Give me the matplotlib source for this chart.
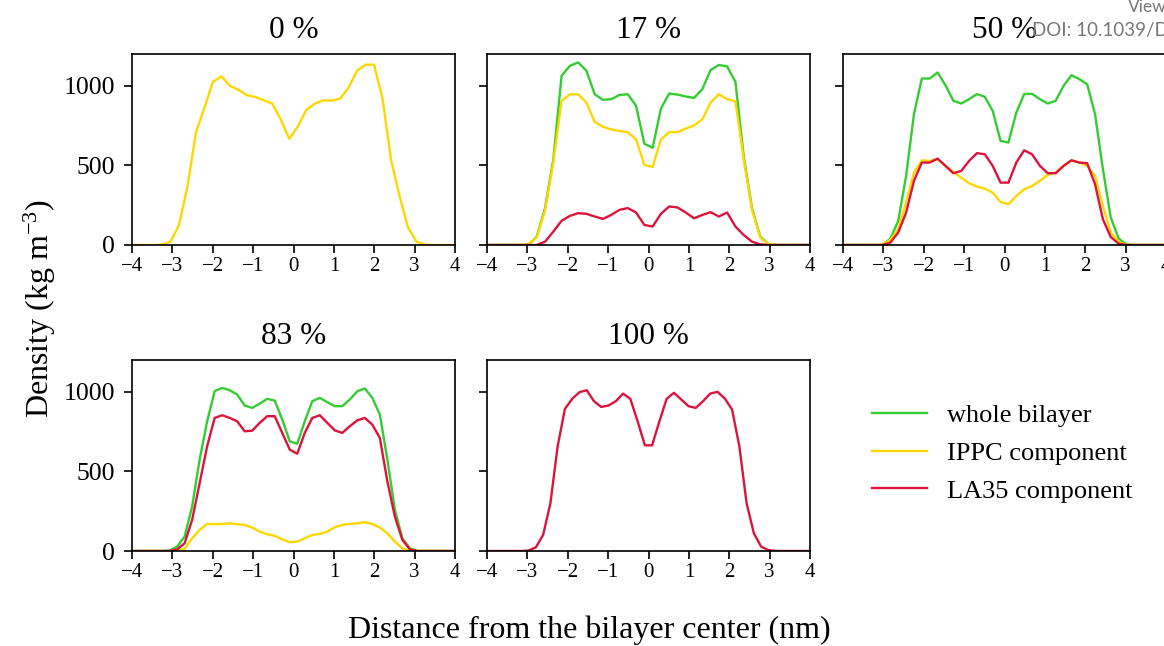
import matplotlib
matplotlib.use("Agg")
import matplotlib.pyplot as plt

plt.rcParams['font.family'] = 'Liberation Serif'
plt.rcParams['mathtext.fontset'] = 'custom'
plt.rcParams['mathtext.rm'] = 'Liberation Serif'
plt.rcParams['mathtext.it'] = 'Liberation Serif:italic'
plt.rcParams['axes.linewidth'] = 1.2

# density profiles (kg m^-3), x in nm
x_0 = [-4.095, -3.885, -3.675, -3.465, -3.255, -3.045, -2.835, -2.625, -2.415, -2.205,
       -1.995, -1.785, -1.575, -1.365, -1.155, -0.945, -0.735, -0.525, -0.315, -0.105,
       0.105, 0.315, 0.525, 0.735, 0.945, 1.155, 1.365, 1.575, 1.785, 1.995,
       2.205, 2.415, 2.625, 2.835, 3.045, 3.255, 3.465, 3.675, 3.885, 4.095]
ippc_0 = [0, 0, 0, 0, 3, 21, 126, 368, 709, 863,
          1025, 1059, 1000, 975, 941, 930, 909, 888, 789, 667,
          743, 848, 888, 909, 907, 920, 989, 1095, 1133, 1133,
          920, 537, 309, 112, 21, 3, 0, 0, 0, 0]

x_17 = [-4.2025, -3.9975, -3.7925, -3.5875, -3.3825, -3.1775, -2.9725, -2.7675, -2.5625, -2.3575,
        -2.1525, -1.9475, -1.7425, -1.5375, -1.3325, -1.1275, -0.9225, -0.7175, -0.5125, -0.3075,
        -0.1025, 0.1025, 0.3075, 0.5125, 0.7175, 0.9225, 1.1275, 1.3325, 1.5375, 1.7425,
        1.9475, 2.1525, 2.3575, 2.5625, 2.7675, 2.9725, 3.1775, 3.3825, 3.5875, 3.7925,
        3.9975, 4.2025]
whole_17 = [0, 0, 0, 0, 0, 0,
            0, 53, 232, 537, 1063, 1126, 1147, 1095, 947, 912, 916, 943, 947, 874, 636,
            611, 857, 952, 945, 933, 924, 979, 1099, 1131, 1122, 1025, 558, 232, 53, 6,
            0, 0, 0, 0, 0, 0]
ippc_17 = [0, 0, 0, 0, 0, 0,
           6, 48, 217, 516, 905, 947, 947, 895, 773, 743, 726, 716, 709, 663, 503,
           491, 663, 709, 709, 731, 752, 789, 895, 947, 916, 903, 540, 221, 48, 5,
           0, 0, 0, 0, 0, 0]
la35_17 = [0, 0, 0, 0, 0, 0,
           0, 0, 21, 84, 152, 183, 200, 196, 179, 164, 189, 221, 232, 204, 126,
           116, 196, 242, 236, 204, 168, 189, 206, 179, 204, 116, 63, 21, 4, 0,
           0, 0, 0, 0, 0, 0]

x_50 = [-4.1925, -3.9975, -3.8025, -3.6075, -3.4125, -3.2175, -3.0225, -2.8275, -2.6325, -2.4375,
        -2.2425, -2.0475, -1.8525, -1.6575, -1.4625, -1.2675, -1.0725, -0.8775, -0.6825, -0.4875,
        -0.2925, -0.0975, 0.0975, 0.2925, 0.4875, 0.6825, 0.8775, 1.0725, 1.2675, 1.4625,
        1.6575, 1.8525, 2.0475, 2.2425, 2.4375, 2.6325, 2.8275, 3.0225, 3.2175, 3.4125,
        3.6075, 3.8025, 3.9975, 4.1925]
whole_50 = [0, 0, 0, 0, 0, 0,
            0, 40, 151, 434, 822, 1046, 1046, 1084, 1004, 906, 889, 916, 948, 931, 843, 654,
            644, 832, 948, 950, 916, 889, 906, 1000, 1067, 1042, 1010, 822, 476, 172, 40, 4,
            0, 0, 0, 0, 0, 0]
ippc_50 = [0, 0, 0, 0, 0, 0,
           4, 31, 99, 266, 455, 532, 528, 539, 497, 459, 423, 388, 367, 354, 329, 270,
           256, 308, 350, 371, 403, 440, 455, 497, 532, 518, 497, 434, 245, 78, 19, 0,
           0, 0, 0, 0, 0, 0]
la35_50 = [0, 0, 0, 0, 0, 0,
           0, 15, 78, 203, 403, 518, 518, 543, 497, 451, 465, 528, 577, 570, 497, 392,
           392, 518, 595, 570, 497, 451, 451, 497, 532, 518, 514, 382, 161, 50, 8, 0,
           0, 0, 0, 0, 0, 0]

x_83 = [-4.185, -3.999, -3.813, -3.627, -3.441, -3.255, -3.069, -2.883, -2.697, -2.511,
        -2.325, -2.139, -1.953, -1.767, -1.581, -1.395, -1.209, -1.023, -0.837, -0.651,
        -0.465, -0.279, -0.093, 0.093, 0.279, 0.465, 0.651, 0.837, 1.023, 1.209,
        1.395, 1.581, 1.767, 1.953, 2.139, 2.325, 2.511, 2.697, 2.883, 3.069,
        3.255, 3.441, 3.627, 3.813, 3.999, 4.185]
whole_83 = [0, 0, 0, 0, 0, 0,
            3, 27, 90, 279, 574, 815, 1004, 1025, 1010, 983, 914, 899, 926, 956, 945, 826, 689,
            674, 815, 941, 962, 935, 910, 910, 952, 1004, 1021, 962, 857, 574, 258, 80, 17, 0,
            0, 0, 0, 0, 0, 0]
ippc_83 = [0, 0, 0, 0, 0, 0,
           0, 2, 13, 80, 132, 170, 168, 170, 174, 168, 164, 147, 122, 105, 95, 74, 55,
           59, 80, 101, 107, 122, 149, 164, 170, 174, 181, 170, 147, 111, 59, 17, 0, 0,
           0, 0, 0, 0, 0, 0]
la35_83 = [0, 0, 0, 0, 0, 0,
           0, 10, 48, 195, 426, 658, 836, 853, 836, 815, 752, 756, 805, 847, 847, 742, 637,
           611, 742, 836, 853, 805, 758, 742, 784, 821, 836, 794, 710, 437, 216, 69, 10, 0,
           0, 0, 0, 0, 0, 0]

x_100 = [-4.05, -3.87, -3.69, -3.51, -3.33, -3.15, -2.97, -2.79, -2.61, -2.43,
         -2.25, -2.07, -1.89, -1.71, -1.53, -1.35, -1.17, -0.99, -0.81, -0.63,
         -0.45, -0.27, -0.09, 0.09, 0.27, 0.45, 0.63, 0.81, 0.99, 1.17,
         1.35, 1.53, 1.71, 1.89, 2.07, 2.25, 2.43, 2.61, 2.79, 2.97,
         3.15, 3.33, 3.51, 3.69, 3.87, 4.05]
la35_100 = [0, 0, 0, 0, 0,
            0, 3, 23, 101, 300, 658, 893, 956, 998, 1010, 941, 905, 914, 941, 989, 956, 815, 664,
            664, 815, 956, 994, 952, 910, 899, 941, 989, 1000, 958, 889, 658, 300, 111, 27, 6, 0,
            0, 0, 0, 0, 0]

titles = ['0 %', '17 %', '50 %', '83 %', '100 %']
labels = ['whole bilayer', 'IPPC component', 'LA35 component']
green, yellow, red = '#33cc33', '#ffd700', '#dc143c'

W, H = 1164, 646
fig = plt.figure(figsize=(W / 100, H / 100), dpi=100)

def panel(left, top):
    return fig.add_axes([left / W, 1 - (top + 191) / H, 323 / W, 191 / H])

axes = [panel(132, 54), panel(487, 54), panel(843, 54), panel(132, 360), panel(487, 360)]

lw = 1.7
axes[0].plot(x_0, ippc_0, color=yellow, lw=lw)
for ax, x, wh, ip, la in [(axes[1], x_17, whole_17, ippc_17, la35_17),
                          (axes[2], x_50, whole_50, ippc_50, la35_50),
                          (axes[3], x_83, whole_83, ippc_83, la35_83)]:
    hg, = ax.plot(x, wh, color=green, lw=lw)
    hy, = ax.plot(x, ip, color=yellow, lw=lw)
    hr, = ax.plot(x, la, color=red, lw=lw)
axes[4].plot(x_100, la35_100, color=red, lw=lw)

for i, ax in enumerate(axes):
    ax.set_xlim(-4, 4)
    ax.set_ylim(0, 1200)
    ax.set_xticks(range(-4, 5))
    ax.set_yticks([0, 500, 1000])
    ax.tick_params(axis='y', labelsize=18.5, length=6, width=1.2, pad=6)
    ax.tick_params(axis='x', labelsize=15, length=6, width=1.2, pad=2.5)
    if i not in (0, 3):
        ax.set_yticklabels([])
    ax.set_title(titles[i], fontsize=22.5, pad=11.5)

fig.legend([hg, hy, hr], labels, loc='center left', bbox_to_anchor=(872 / W, 1 - 453 / H),
           frameon=False, fontsize=19, handlelength=2.1, handletextpad=0.75,
           labelspacing=0.55, borderpad=0, borderaxespad=0)

fig.text(589 / W, 1 - 630 / H, 'Distance from the bilayer center (nm)',
         ha='center', va='center', fontsize=23)
fig.text(40 / W, 1 - 308 / H, r'Density (kg m$^{-3}$)', rotation=90,
         ha='center', va='center', fontsize=23)

# page overlay visible in the screenshot
fig.text(1128 / W, 1 - 12 / H, 'View', color='#777777', fontsize=12.5, family='Lato')
fig.text(1032 / W, 1 - 36 / H, 'DOI: 10.1039/D', color='#777777', fontsize=13.5, family='Lato')

fig.savefig('out.png', dpi=100)
